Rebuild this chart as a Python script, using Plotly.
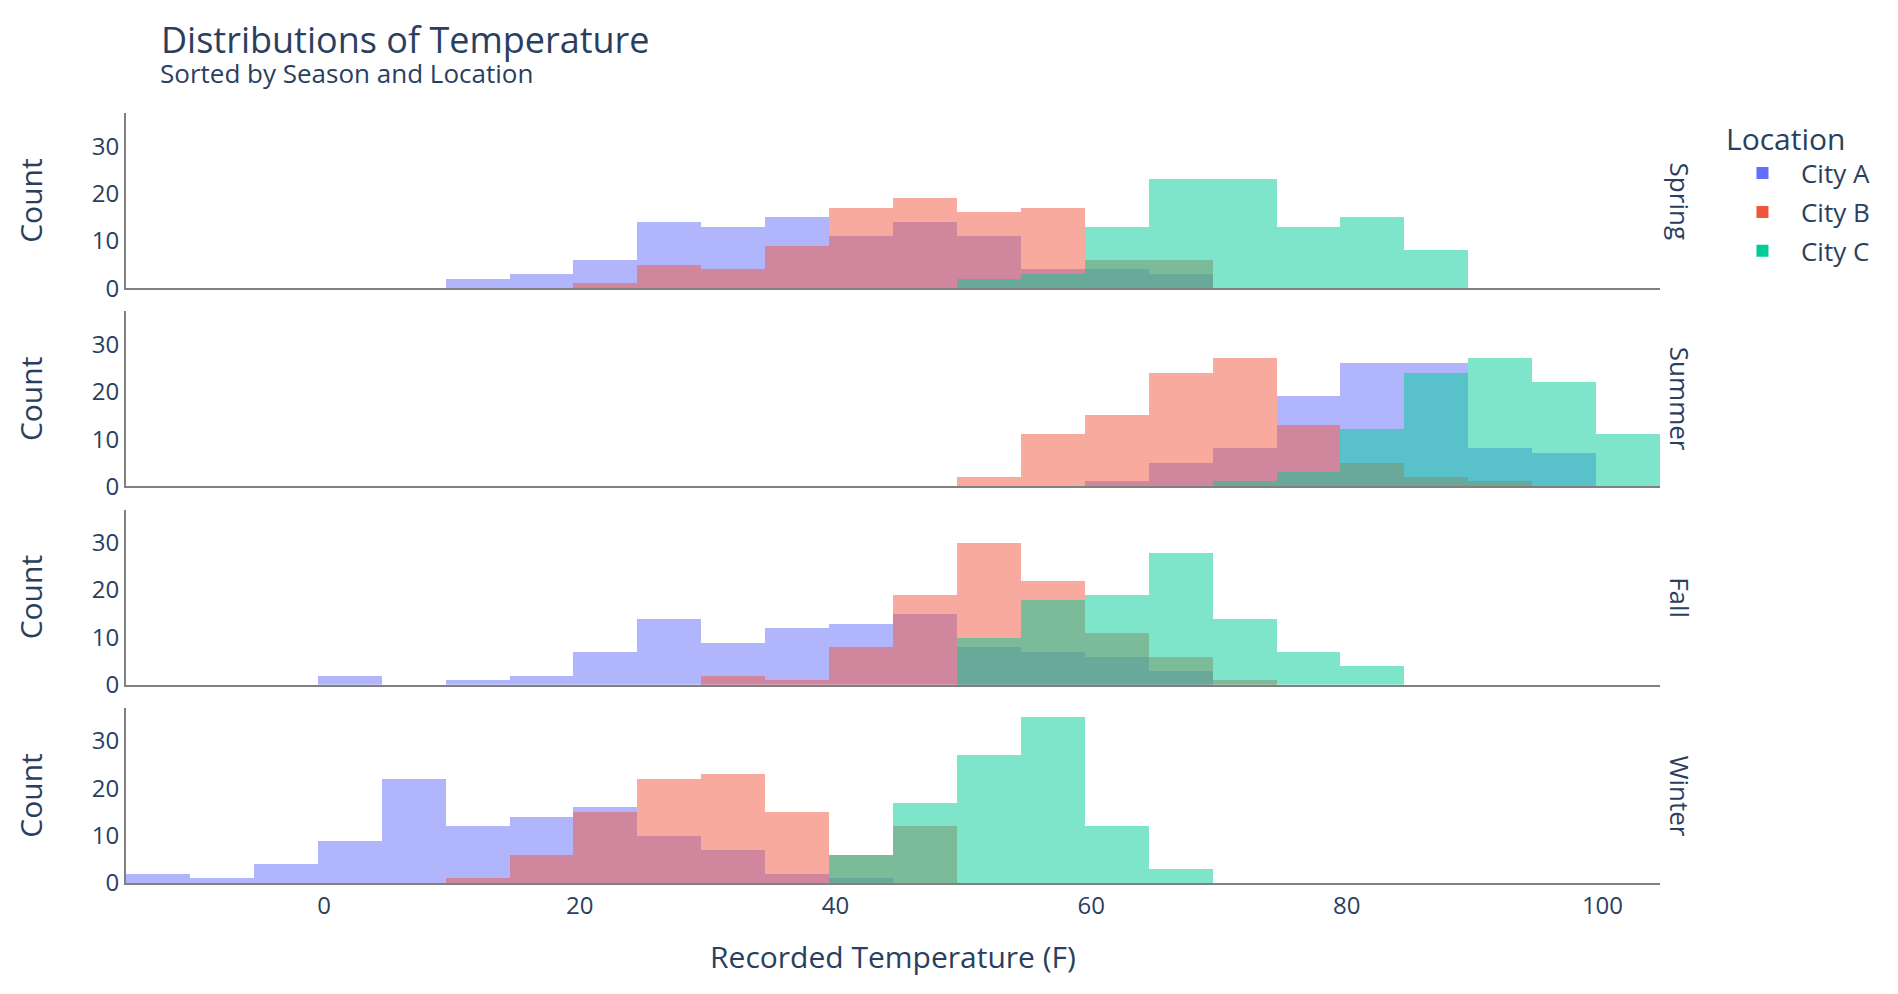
import plotly.graph_objects as go
from plotly.subplots import make_subplots

# bin centres of the 5-degree histogram bins (edges at -15.5, -10.5, ..., 104.5)
bin_centers = [-13, -8, -3, 2, 7, 12, 17, 22, 27, 32, 37, 42,
               47, 52, 57, 62, 67, 72, 77, 82, 87, 92, 97, 102]

seasons = ["Spring", "Summer", "Fall", "Winter"]
cities = ["City A", "City B", "City C"]

# counts per bin
spring_a = [0, 0, 0, 0, 0, 2, 3, 6, 14, 13, 15, 11, 14, 11, 4, 4, 3, 0, 0, 0, 0, 0, 0, 0]
spring_b = [0, 0, 0, 0, 0, 0, 0, 1, 5, 4, 9, 17, 19, 16, 17, 6, 6, 0, 0, 0, 0, 0, 0, 0]
spring_c = [0, 0, 0, 0, 0, 0, 0, 0, 0, 0, 0, 0, 0, 2, 3, 13, 23, 23, 13, 15, 8, 0, 0, 0]

summer_a = [0, 0, 0, 0, 0, 0, 0, 0, 0, 0, 0, 0, 0, 0, 0, 1, 5, 8, 19, 26, 26, 8, 7, 0]
summer_b = [0, 0, 0, 0, 0, 0, 0, 0, 0, 0, 0, 0, 0, 2, 11, 15, 24, 27, 13, 5, 2, 1, 0, 0]
summer_c = [0, 0, 0, 0, 0, 0, 0, 0, 0, 0, 0, 0, 0, 0, 0, 0, 0, 1, 3, 12, 24, 27, 22, 11]

fall_a = [0, 0, 0, 2, 0, 1, 2, 7, 14, 9, 12, 13, 15, 8, 7, 6, 3, 0, 0, 0, 0, 0, 0, 0]
fall_b = [0, 0, 0, 0, 0, 0, 0, 0, 0, 2, 1, 8, 19, 30, 22, 11, 6, 1, 0, 0, 0, 0, 0, 0]
fall_c = [0, 0, 0, 0, 0, 0, 0, 0, 0, 0, 0, 0, 0, 10, 18, 19, 28, 14, 7, 4, 0, 0, 0, 0]

winter_a = [2, 1, 4, 9, 22, 12, 14, 16, 10, 7, 2, 1, 0, 0, 0, 0, 0, 0, 0, 0, 0, 0, 0, 0]
winter_b = [0, 0, 0, 0, 0, 1, 6, 15, 22, 23, 15, 6, 12, 0, 0, 0, 0, 0, 0, 0, 0, 0, 0, 0]
winter_c = [0, 0, 0, 0, 0, 0, 0, 0, 0, 0, 0, 6, 17, 27, 35, 12, 3, 0, 0, 0, 0, 0, 0, 0]

counts = {
    "Spring": [spring_a, spring_b, spring_c],
    "Summer": [summer_a, summer_b, summer_c],
    "Fall": [fall_a, fall_b, fall_c],
    "Winter": [winter_a, winter_b, winter_c],
}

colors = ["#636efa", "#EF553B", "#00cc96"]
font_color = "#2a3f5f"

fig = make_subplots(rows=4, cols=1, shared_xaxes=True, vertical_spacing=0.03)

# city by city so City C sits on top in every row
for j, city in enumerate(cities):
    for i, season in enumerate(seasons):
        fig.add_trace(go.Bar(x=bin_centers, y=counts[season][j], width=5,
                             name=city, legendgroup=city, showlegend=(i == 0),
                             marker=dict(color=colors[j], opacity=0.5, line=dict(width=0))),
                      row=i + 1, col=1)

# season labels on the right of each row
for i, season in enumerate(seasons):
    dom = fig.layout["yaxis" if i == 0 else "yaxis%d" % (i + 1)].domain
    fig.add_annotation(text=season, x=1, xref="paper", xanchor="left", xshift=0,
                       y=(dom[0] + dom[1]) / 2, yref="paper", yanchor="middle",
                       textangle=90, showarrow=False, font=dict(size=26, color=font_color))

# subtitle under the main title
fig.add_annotation(text="Sorted by Season and Location", x=0.021, xref="paper", xanchor="left",
                   y=1.0515, yref="paper", yanchor="middle", showarrow=False,
                   font=dict(size=26, color=font_color))

fig.update_xaxes(range=[-15.5, 104.5], showgrid=False, zeroline=False, showline=True,
                 linecolor="gray", linewidth=2, ticks="", tickfont=dict(size=24), automargin=False)
fig.update_xaxes(title=dict(text="Recorded Temperature (F)", font=dict(size=30), standoff=27),
                 row=4, col=1)
fig.update_yaxes(range=[0, 37], dtick=10, showgrid=False, zeroline=False, showline=True,
                 linecolor="gray", linewidth=2, ticks="", tickfont=dict(size=24), automargin=False,
                 title=dict(text="Count", font=dict(size=30), standoff=40))

fig.update_layout(
    template="plotly_white",
    width=1882, height=978,
    barmode="overlay", bargap=0,
    font=dict(family="Open Sans", color=font_color, size=24),
    title=dict(text="Distributions of Temperature", x=0.0813, xanchor="left", xref="container",
               y=0.9796, yanchor="top", yref="container", font=dict(size=36)),
    legend=dict(title=dict(text="Location", font=dict(size=30)), font=dict(size=26),
                x=1.0417, y=1.003, xanchor="left", yanchor="top", tracegroupgap=2, itemwidth=67),
    margin=dict(l=118, r=230, t=105, b=103),
    plot_bgcolor="white", paper_bgcolor="white",
)

fig.write_html("out.html")
